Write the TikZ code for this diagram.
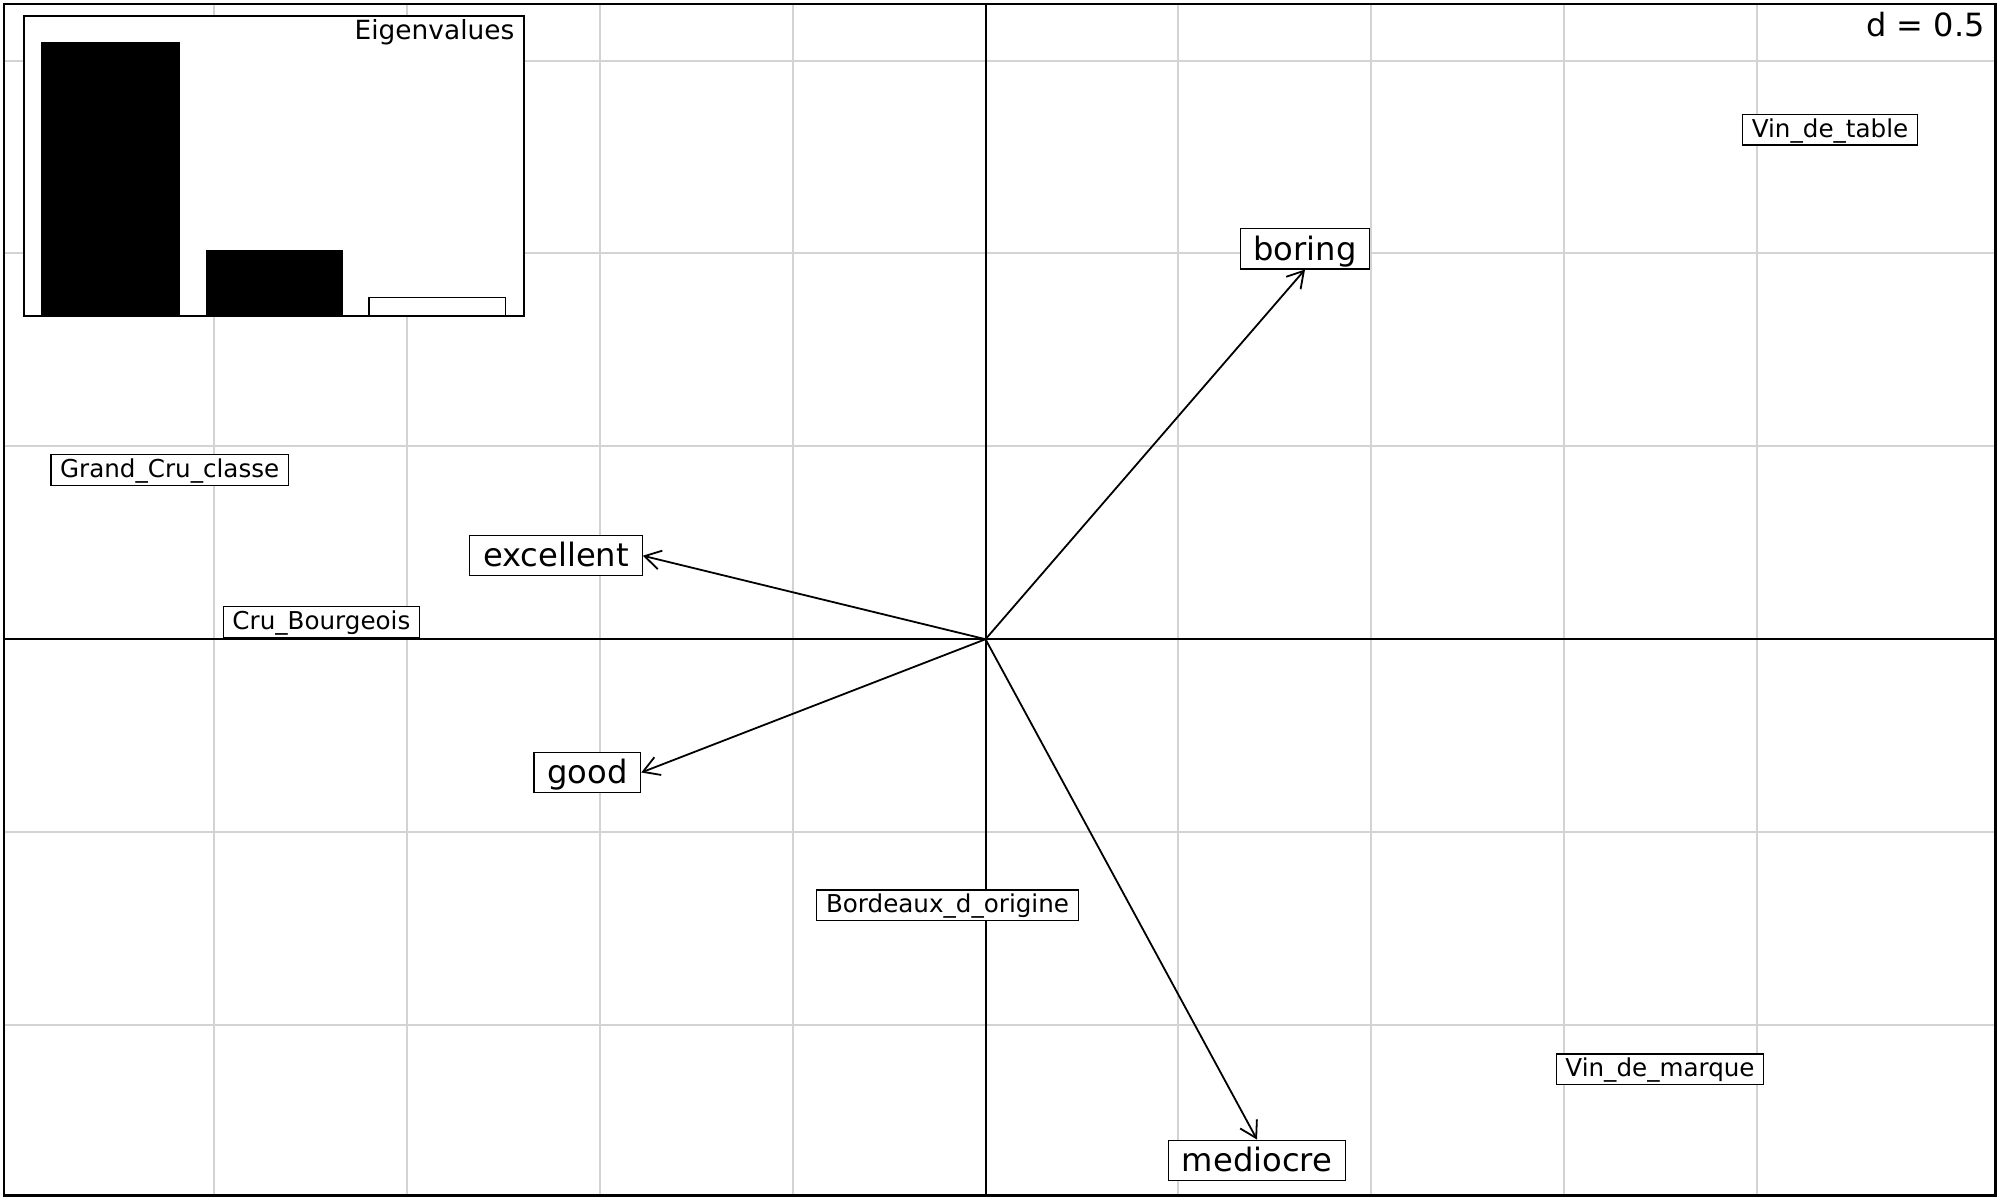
\documentclass[tikz,border=0pt]{standalone}
\usepackage{fontspec}
\setmainfont{DejaVu Sans}
\usetikzlibrary{arrows.meta}
\definecolor{gridgray}{RGB}{211,211,211}
\begin{document}
\begin{tikzpicture}[x=0.5pt,y=-0.5pt,
  gridline/.style={draw=gridgray,line width=1pt},
  axisline/.style={draw=black,line width=1pt},
  frameline/.style={draw=black,line width=1.2pt},
  biglab/.style={draw=black,fill=white,line width=0.6pt,font=\fontsize{16.1}{18}\selectfont,inner xsep=6.6pt,inner ysep=2pt,text height=13.7pt,text depth=2.45pt},
  smalllab/.style={draw=black,fill=white,line width=0.6pt,font=\fontsize{12.3}{14}\selectfont,inner xsep=4.6pt,inner ysep=1.5pt,text height=9.9pt,text depth=2.45pt},
  arr/.style={-{Straight Barb[length=8pt,width=9.5pt]},line width=0.9pt},
  plaintext/.style={inner sep=0pt,anchor=base east}]
\useasboundingbox (0,0) rectangle (2000,1200);
\fill[white] (0,0) rectangle (2000,1200);
% grid
\foreach \k in {-4,...,4} \draw[gridline] ({985.5+\k*192.9},4) -- ({985.5+\k*192.9},1195.5);
\foreach \k in {-3,...,2} \draw[gridline] (4,{639.2+\k*192.9}) -- (1995.5,{639.2+\k*192.9});
% axes
\draw[axisline] (985.5,4) -- (985.5,1195.5);
\draw[axisline] (4,639.2) -- (1995.5,639.2);
% frame
\draw[frameline] (4,4) rectangle (1995.5,1195.5);
\coordinate (o) at (985.5,639.2);
% row labels
\node[smalllab] (vtable) at (1830,129.7) {Vin\_de\_table};
\node[smalllab] (gcc) at (169.7,469.8) {Grand\_Cru\_classe};
\node[smalllab] (cbourg) at (321.4,621.8) {Cru\_Bourgeois};
\node[smalllab] (bdo) at (947.5,905.3) {Bordeaux\_d\_origine};
\node[smalllab] (vmarque) at (1660,1069.3) {Vin\_de\_marque};
% column labels
\node[biglab] (boring) at (1305,248.8) {boring};
\node[biglab] (excellent) at (556,555.7) {excellent};
\node[biglab] (good) at (587.3,772.5) {good};
\node[biglab] (mediocre) at (1257,1160.3) {mediocre};
% arrows
\draw[arr] (o) -- (boring.south);
\draw[arr] (o) -- (excellent.east);
\draw[arr] (o) -- (good.east);
\draw[arr] (o) -- (mediocre.north);
% scale
\node[plaintext,font=\fontsize{16}{18}\selectfont] (dval) at (1985,36) {d = 0.5};
% eigenvalues inset
\draw[fill=white,line width=1pt] (24,16) rectangle (524,315.5);
\fill[black] (41.3,42.3) rectangle (179.5,315.5);
\fill[black] (205.5,249.7) rectangle (343,315.5);
\draw[fill=white,line width=0.6pt] (369,297.3) rectangle (505.5,315.5);
\draw[line width=1pt] (24,16) rectangle (524,315.5);
\node[plaintext,font=\fontsize{13.2}{15}\selectfont] (eig) at (514.7,39) {Eigenvalues};
\end{tikzpicture}
\end{document}
